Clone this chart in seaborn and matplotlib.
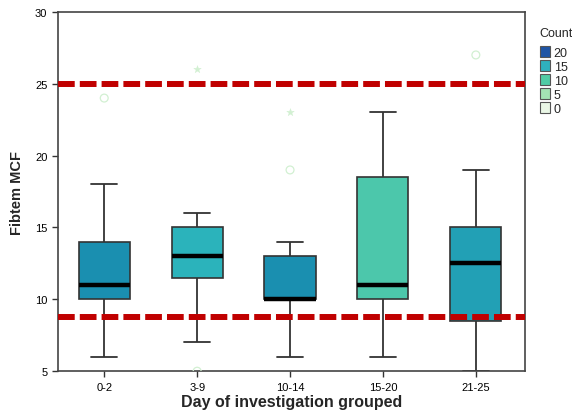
import pandas as pd
import matplotlib.pyplot as plt
import seaborn as sns
from matplotlib.patches import Patch

# groups on the x axis
groups = ['0-2', '3-9', '10-14', '15-20', '21-25']

# five-number summaries: low whisker, Q1, median, Q3, high whisker
vals_0_2 = [6, 10, 11, 14, 18]
vals_3_9 = [7, 11.5, 13, 15, 16]
vals_10_14 = [6, 10, 10, 13, 14]
vals_15_20 = [6, 10, 11, 18.5, 23]
vals_21_25 = [5, 8.5, 12.5, 15, 19]

box_colors = ['#1a8fb0', '#2bb3bb', '#1a8fb0', '#4cc7ab', '#22a0b5']

# outliers (circles) and extremes (stars)
circ_groups = ['0-2', '3-9', '10-14', '21-25']
circ_vals = [24, 5, 19, 27]
star_groups = ['3-9', '10-14']
star_vals = [26, 23]

# reference lines
ref_lines = [25, 8.8]

# legend
legend_labels = ['20', '15', '10', '5', '0']
legend_colors = ['#1f55a5', '#2fb0bd', '#50cca5', '#a3e2b3', '#eaf7e6']

df = pd.DataFrame({
    'grp': sum([[g] * 5 for g in groups], []),
    'mcf': vals_0_2 + vals_3_9 + vals_10_14 + vals_15_20 + vals_21_25,
})

sns.set_style('white')
plt.rcParams['font.family'] = ['Liberation Sans', 'DejaVu Sans']

fig = plt.figure(figsize=(5.72, 4.14), dpi=100)
ax = fig.add_axes([0.101, 0.101, 0.817, 0.868])

sns.boxplot(data=df, x='grp', y='mcf', order=groups, hue='grp', palette=box_colors,
            saturation=1, legend=False, width=0.55, whis=(0, 100), ax=ax,
            boxprops=dict(edgecolor='#333333', linewidth=1.2),
            whiskerprops=dict(color='#333333', linewidth=1.3),
            capprops=dict(color='#333333', linewidth=1.3),
            medianprops=dict(color='black', linewidth=3.2))

pos = {g: i for i, g in enumerate(groups)}
ax.scatter([pos[g] for g in circ_groups], circ_vals, s=32, marker='o',
           facecolors='none', edgecolors='#d2f0d2', linewidths=0.9, zorder=3)
ax.scatter([pos[g] for g in star_groups], star_vals, s=32, marker='*',
           color='#d2f0d2', linewidths=0.3, zorder=3)

for yv in ref_lines:
    ax.axhline(yv, color='#c00000', linewidth=4.3, dashes=(2.8, 0.85), zorder=4)

ax.set_xlim(-0.5, 4.53)
ax.set_ylim(5, 30)
ax.set_yticks([5, 10, 15, 20, 25, 30])
ax.tick_params(axis='both', direction='out', length=4, width=1, colors='#333333',
               labelsize=8, labelcolor='black', left=True, bottom=True)
for s in ax.spines.values():
    s.set_color('#444444')
    s.set_linewidth(1.2)

ax.set_xlabel('Day of investigation grouped', fontsize=11.5, fontweight='bold', labelpad=2)
ax.set_ylabel('Fibtem MCF', fontsize=10.5, fontweight='bold', labelpad=8)

handles = [Patch(facecolor=c, edgecolor='#555555', linewidth=0.8) for c in legend_colors]
leg = fig.legend(handles, legend_labels, title='Count', loc='upper left',
                 bbox_to_anchor=(0.935, 0.945), frameon=False, fontsize=9,
                 title_fontsize=9, handlelength=0.85, handleheight=1.0,
                 handletextpad=0.25, labelspacing=0.1, borderaxespad=0)
leg._legend_box.align = 'left'
leg._legend_box.sep = 5

fig.savefig('out.png', dpi=100)
